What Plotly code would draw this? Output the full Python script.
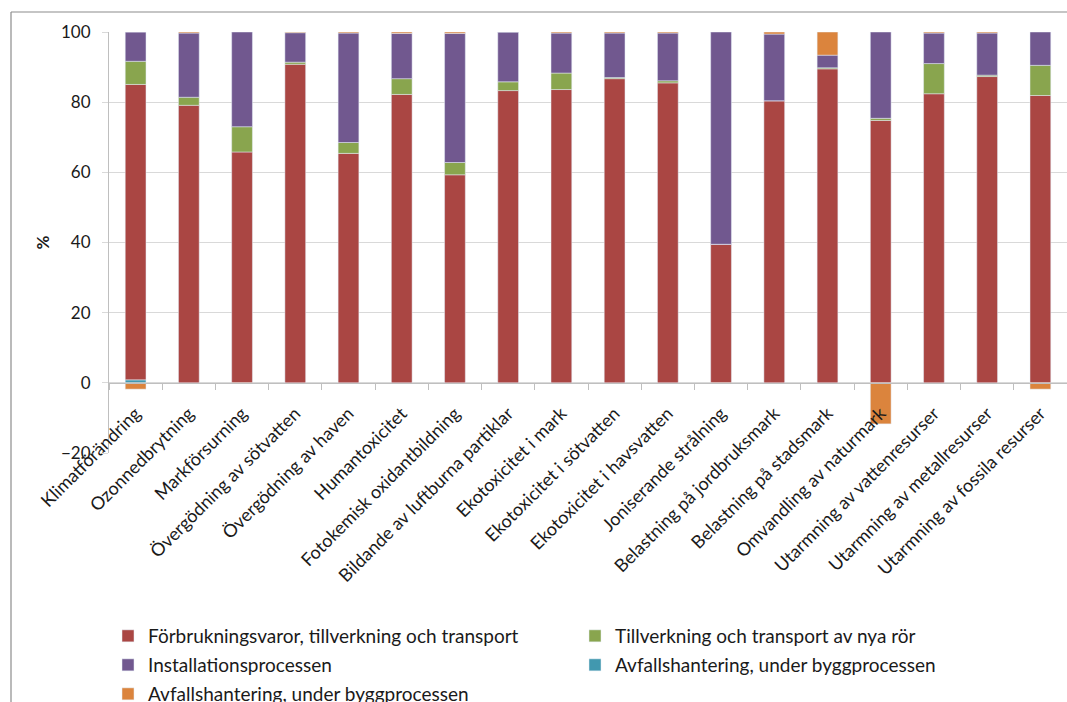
import plotly.graph_objects as go

categories = [
    "Klimatförändring", "Ozonnedbrytning", "Markförsurning",
    "Övergödning av sötvatten", "Övergödning av haven", "Humantoxicitet",
    "Fotokemisk oxidantbildning", "Bildande av luftburna partiklar",
    "Ekotoxicitet i mark", "Ekotoxicitet i sötvatten", "Ekotoxicitet i havsvatten",
    "Joniserande strålning", "Belastning på jordbruksmark", "Belastning på stadsmark",
    "Omvandling av naturmark", "Utarmning av vattenresurser",
    "Utarmning av metallresurser", "Utarmning av fossila resurser",
]

forbrukning = [84.2, 79.1, 65.8, 90.8, 65.4, 82.2, 59.3, 83.3, 83.6, 86.7, 85.5,
               39.5, 80.4, 89.5, 74.8, 82.4, 87.3, 81.9]
nya_ror = [6.6, 2.3, 7.2, 0.6, 3.1, 4.5, 3.5, 2.5, 4.7, 0.3, 0.6,
           0.0, 0.0, 0.3, 0.6, 8.6, 0.4, 8.6]
installation = [8.3, 18.3, 27.0, 8.4, 31.2, 12.9, 36.8, 14.2, 11.4, 12.7, 13.6,
                60.5, 19.0, 3.6, 24.6, 8.7, 12.0, 9.5]
avfall_blue = [0.85, 0, 0, 0, 0, 0, 0, 0, 0, 0, 0, 0, 0, 0, 0, 0, 0, 0]
avfall_orange = [-1.8, 0.3, -0.2, 0.2, 0.3, 0.4, 0.4, 0.0, 0.3, 0.3, 0.3,
                 -0.2, 0.6, 6.6, -11.7, 0.3, 0.3, -1.8]

series_names = [
    "Förbrukningsvaror, tillverkning och transport",
    "Tillverkning och transport av nya rör",
    "Installationsprocessen",
    "Avfallshantering, under byggprocessen",
    "Avfallshantering, under byggprocessen",
]

FONT = "Lato, 'Open Sans', sans-serif"
TXT = "#1a1a1a"

fig = go.Figure()

# blue waste series sits at the base of the positive stack
fig.add_trace(go.Bar(x=categories, y=avfall_blue, name=series_names[3],
                     marker_color="#4198AF", legend="legend2", legendrank=2))
fig.add_trace(go.Bar(x=categories, y=forbrukning, name=series_names[0],
                     marker_color="#AA4643", legend="legend", legendrank=1))
fig.add_trace(go.Bar(x=categories, y=nya_ror, name=series_names[1],
                     marker_color="#89A54E", legend="legend", legendrank=2))
fig.add_trace(go.Bar(x=categories, y=installation, name=series_names[2],
                     marker_color="#71588F", legend="legend2", legendrank=1))
fig.add_trace(go.Bar(x=categories, y=avfall_orange, name=series_names[4],
                     marker_color="#DB843D", legend="legend3", legendrank=1))

W, H = 1067, 702
L, T, B = 109, 32, 249

legend_common = dict(orientation="h", xref="container", yref="container",
                     xanchor="left", yanchor="middle", entrywidth=422,
                     entrywidthmode="pixels", bgcolor="rgba(0,0,0,0)",
                     font=dict(family=FONT, size=19, color=TXT),
                     itemclick=False, itemdoubleclick=False)

fig.update_layout(
    width=W, height=H,
    margin=dict(l=L, r=0, t=T, b=B, pad=0, autoexpand=False),
    paper_bgcolor="white", plot_bgcolor="white",
    barmode="relative", bargap=0.61,
    font=dict(family=FONT, size=16, color=TXT),
    legend=dict(x=108 / W, y=1 - 636 / H, **legend_common),
    legend2=dict(x=108 / W, y=1 - 665 / H, **legend_common),
    legend3=dict(x=108 / W, y=1 - 694 / H, **legend_common),
    xaxis=dict(
        anchor="free", position=20 / 120, automargin=False,
        showline=True, linecolor="#bfbfbf", linewidth=1.2,
        ticks="outside", tickson="boundaries", ticklen=6, tickcolor="#bfbfbf",
        ticklabelstandoff=12,
        tickangle=-45, tickfont=dict(family=FONT, size=18, color=TXT),
        showgrid=False, zeroline=False,
    ),
    yaxis=dict(
        range=[-20, 100], dtick=20, tick0=0, automargin=False,
        showline=True, linecolor="#bfbfbf", linewidth=1.2,
        ticks="outside", ticklen=6, tickcolor="#d9d9d9",
        ticklabelstandoff=8,
        gridcolor="#d9d9d9", gridwidth=1.2, zeroline=False,
        tickfont=dict(family=FONT, size=17, color=TXT),
        title=dict(text="<b>%</b>", standoff=6,
                   font=dict(family=FONT, size=17, color=TXT)),
    ),
)

# chart-area frame along the top and left edges
x_left = (11 - L) / (W - L)
y_top = (H - B - 12) / (H - T - B)
fig.add_shape(type="line", xref="paper", yref="paper", x0=x_left, x1=x_left,
              y0=-0.7, y1=y_top, line=dict(color="#8c8c8c", width=1.2), layer="below")
fig.add_shape(type="line", xref="paper", yref="paper", x0=x_left, x1=1.02,
              y0=y_top, y1=y_top, line=dict(color="#8c8c8c", width=1.2), layer="below")

fig.write_html("out.html")
